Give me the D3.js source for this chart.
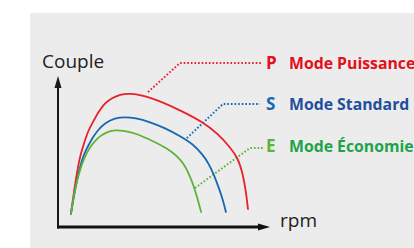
<!DOCTYPE html>
<html>
<head>
<meta charset="utf-8">
<script src="https://cdn.jsdelivr.net/npm/d3@7"></script>
<style>
  html, body { margin: 0; padding: 0; background: #fff; }
  svg { display: block; }
</style>
</head>
<body>
<svg id="chart" width="414" height="248"></svg>
<script>
// courbes couple / régime (unités relatives 0-100)
const modes = ['P', 'S', 'E'];
const modeNames = ['Mode Puissance', 'Mode Standard', 'Mode Économie'];

const rpmP = [6.1, 7.5, 9.0, 10.4, 12.3, 14.2, 16.5, 19.3, 22.2, 25.5, 29.2, 34.0, 43.4, 57.5, 68.4, 75.5, 81.1, 84.9, 87.3, 88.7, 89.6];
const torqueP = [8.7, 23.3, 36.7, 47.3, 56, 64, 70, 77.3, 82.7, 86, 88.3, 89.3, 86.7, 78, 70, 62, 53.3, 46, 34.7, 23.3, 12];

const rpmS = [6.1, 7.5, 9.0, 10.8, 12.7, 14.2, 16.5, 18.9, 22.2, 26.9, 31.6, 36.3, 43.4, 50.5, 57.5, 63.7, 68.4, 71.2, 73.6, 75.9, 77.8, 79.2];
const torqueS = [8.7, 20.7, 31.3, 42.7, 50, 54, 60, 64.7, 69.3, 72.7, 73.3, 72.7, 70, 66, 60.7, 55.3, 48, 42, 34.7, 26, 18, 10];

const rpmE = [6.1, 7.5, 9.0, 10.4, 12.3, 15.1, 17.5, 19.8, 23.1, 26.9, 31.6, 36.3, 44.8, 51.9, 56.1, 59.4, 61.8, 63.7, 65.6, 67.5];
const torqueE = [8.7, 21.3, 31.3, 38, 46, 53.3, 57.3, 60.7, 63.3, 64.7, 64, 62.7, 57.3, 52, 47.3, 42, 35.3, 28.7, 20, 10];

const series = [
  { rpm: rpmP, torque: torqueP },
  { rpm: rpmS, torque: torqueS },
  { rpm: rpmE, torque: torqueE },
];

const curveColors = ['#e8202a', '#1767b3', '#5db335'];
const letterColors = ['#e30f1b', '#1767b3', '#5db335'];
const nameColors = ['#e30f1b', '#1f4f9e', '#1ea34a'];

const svg = d3.select('#chart');

// fond gris
svg.append('rect')
  .attr('x', 30).attr('y', 13)
  .attr('width', 384).attr('height', 235)
  .attr('fill', '#ececec');

const x = d3.scaleLinear().domain([0, 100]).range([58, 270]);
const y = d3.scaleLinear().domain([0, 100]).range([227, 77]);

const line = d3.line()
  .x(d => x(d[0]))
  .y(d => y(d[1]))
  .curve(d3.curveBasis);

// repères pointillés vers les étiquettes
const leaders = [
  [[42.5, 90], [57.5, 109.3], [96.2, 109.3]],
  [[60.8, 59.3], [77.8, 82], [95.3, 82]],
  [[64.6, 26], [90.6, 52.7], [96.7, 52.7]],
];

const lineSimple = d3.line().x(d => x(d[0])).y(d => y(d[1]));

svg.selectAll('.leader')
  .data(leaders)
  .join('path')
  .attr('class', 'leader')
  .attr('d', d => lineSimple(d))
  .attr('fill', 'none')
  .attr('stroke', (d, i) => curveColors[i])
  .attr('stroke-width', 2)
  .attr('stroke-dasharray', '1.6 2');

svg.selectAll('.curve')
  .data(series)
  .join('path')
  .attr('class', 'curve')
  .attr('d', d => line(d.rpm.map((r, i) => [r, d.torque[i]])))
  .attr('fill', 'none')
  .attr('stroke', (d, i) => curveColors[i])
  .attr('stroke-width', 1.8)
  .attr('stroke-linecap', 'round');

// axes avec flèches
svg.append('line')
  .attr('x1', x(0)).attr('y1', y(0) + 1.5)
  .attr('x2', x(0)).attr('y2', 86)
  .attr('stroke', '#1a1a16').attr('stroke-width', 2);
svg.append('path')
  .attr('d', `M${x(0)},76 L${x(0) - 3.5},88 L${x(0) + 3.5},88 Z`)
  .attr('fill', '#1a1a16');

svg.append('line')
  .attr('x1', x(0) - 1).attr('y1', y(0))
  .attr('x2', 260).attr('y2', y(0))
  .attr('stroke', '#12110c').attr('stroke-width', 3);
svg.append('path')
  .attr('d', `M270,${y(0)} L258,${y(0) - 3.5} L258,${y(0) + 3.5} Z`)
  .attr('fill', '#12110c');

svg.append('text')
  .attr('x', 42).attr('y', 68)
  .attr('font-family', 'Open Sans, sans-serif')
  .attr('font-size', 19)
  .attr('fill', '#222')
  .text('Couple');

svg.append('text')
  .attr('x', 280).attr('y', 227)
  .attr('font-family', 'Open Sans, sans-serif')
  .attr('font-size', 19)
  .attr('fill', '#222')
  .text('rpm');

// étiquettes des modes
const labelY = [69, 110, 152];

svg.selectAll('.letter')
  .data(modes)
  .join('text')
  .attr('class', 'letter')
  .attr('x', 266)
  .attr('y', (d, i) => labelY[i])
  .attr('font-family', 'Open Sans, sans-serif')
  .attr('font-weight', 'bold')
  .attr('font-size', 17)
  .attr('fill', (d, i) => letterColors[i])
  .text(d => d);

svg.selectAll('.name')
  .data(modeNames)
  .join('text')
  .attr('class', 'name')
  .attr('x', 289)
  .attr('y', (d, i) => labelY[i])
  .attr('font-family', 'Open Sans, sans-serif')
  .attr('font-weight', 'bold')
  .attr('font-size', 15.8)
  .attr('fill', (d, i) => nameColors[i])
  .text(d => d);
</script>
</body>
</html>
